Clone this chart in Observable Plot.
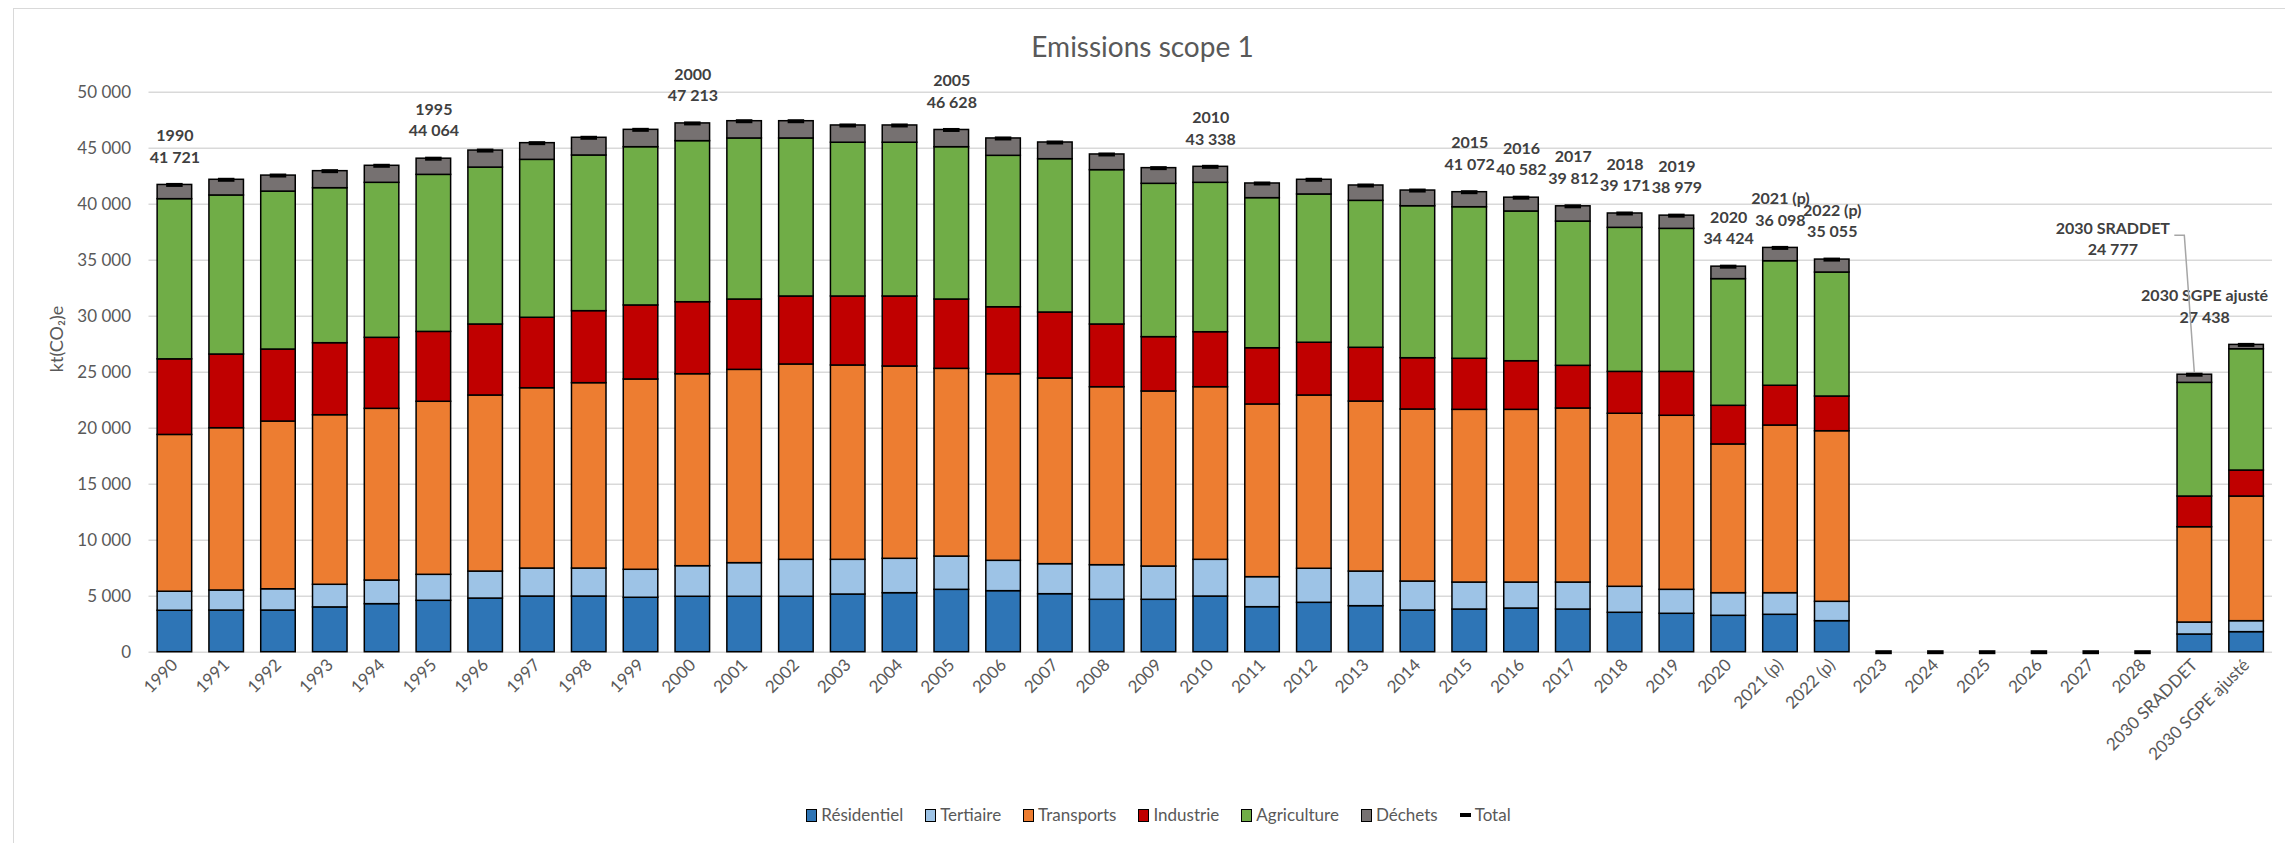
<!DOCTYPE html>
<html><head><meta charset="utf-8">
<script src="https://cdn.jsdelivr.net/npm/d3@7"></script>
<script src="https://cdn.jsdelivr.net/npm/@observablehq/plot@0.6"></script>
<style>
body{margin:0;background:#fff;font-family:Lato,"Open Sans",sans-serif;}
#wrap{position:relative;width:2285px;height:843px;overflow:hidden;background:#fff;}
#frame{position:absolute;left:13px;top:8px;width:2320px;height:900px;border-left:1.5px solid #d9d9d9;border-top:1.5px solid #d9d9d9;}
#title{position:absolute;left:0;top:28px;width:2285px;text-align:center;font-size:28px;color:#595959;line-height:36px;}
#chart{position:absolute;left:0;top:60px;}
#legend{position:absolute;top:803px;left:0;width:2317px;display:flex;justify-content:center;gap:22px;font-size:17px;color:#595959;line-height:24px;}
#legend .it{display:flex;align-items:center;gap:4px;}
#legend .sw{display:inline-block;width:9px;height:11px;border:1.5px solid #000;}
#legend .tot{display:inline-block;width:11px;height:4px;background:#000;}
</style></head>
<body>
<div id="wrap">
  <div id="frame"></div>
  <div id="title">Emissions scope 1</div>
  <div id="chart"></div>
  <div id="legend"></div>
</div>
<script>
const categories = ["1990","1991","1992","1993","1994","1995","1996","1997","1998","1999",
  "2000","2001","2002","2003","2004","2005","2006","2007","2008","2009",
  "2010","2011","2012","2013","2014","2015","2016","2017","2018","2019",
  "2020","2021 (p)","2022 (p)","2023","2024","2025","2026","2027","2028",
  "2030 SRADDET","2030 SGPE ajusté"];
const N = null;
const residentiel = [3700,3720,3720,4000,4290,4590,4790,4970,4970,4860,
  4950,4950,4950,5150,5270,5570,5450,5180,4680,4680,
  4970,4020,4410,4110,3720,3810,3900,3810,3520,3430,
  3250,3340,2770,N,N,N,N,N,N,1580,1790];
const tertiaire = [1700,1790,1900,2020,2110,2320,2410,2500,2500,2500,
  2730,3000,3300,3100,3070,2970,2710,2680,3090,2970,
  3280,2680,3040,3090,2590,2410,2320,2410,2320,2140,
  2020,1930,1730,N,N,N,N,N,N,1070,980];
const transports = [14000,14490,14975,15140,15330,15450,15720,16100,16550,16990,
  17140,17260,17440,17350,17170,16760,16660,16580,15890,15630,
  15410,15420,15470,15180,15360,15420,15420,15540,15450,15540,
  13280,14970,15230,N,N,N,N,N,N,8510,11130];
const industrie = [6750,6580,6430,6430,6340,6240,6340,6290,6430,6610,
  6430,6280,6070,6160,6250,6190,5980,5890,5600,4850,
  4910,5020,4710,4800,4580,4560,4340,3810,3740,3920,
  3450,3550,3100,N,N,N,N,N,N,2740,2320];
const agriculture = [14300,14200,14100,13840,13840,14020,14010,14100,13900,14130,
  14380,14380,14110,13730,13730,13600,13520,13690,13780,13690,
  13340,13400,13240,13120,13570,13530,13370,12880,12860,12770,
  11310,11120,11070,N,N,N,N,N,N,10150,10830];
const dechets = [1270,1400,1430,1520,1520,1444,1520,1490,1580,1550,
  1583,1540,1540,1540,1540,1538,1550,1490,1400,1400,
  1428,1310,1310,1370,1400,1342,1232,1362,1281,1179,
  1114,1188,1155,N,N,N,N,N,N,727,388];
const totals = [41721,42180,42560,42950,43430,44064,44790,45450,45930,46640,
  47213,47410,47410,47030,47030,46628,45870,45510,44440,43220,
  43338,41850,42180,41670,41220,41072,40582,39812,39171,38979,
  34424,36098,35055,0,0,0,0,0,0,24777,27438];
const labelled = ["1990","1995","2000","2005","2010","2015","2016","2017","2018","2019",
  "2020","2021 (p)","2022 (p)","2030 SRADDET","2030 SGPE ajusté"];
const sectors = ["Résidentiel","Tertiaire","Transports","Industrie","Agriculture","Déchets"];
const colors = ["#2E75B6","#9DC3E6","#ED7D31","#C00000","#70AD47","#767171"];
const yTicks = [0,5000,10000,15000,20000,25000,30000,35000,40000,45000,50000];

const series = [residentiel, tertiaire, transports, industrie, agriculture, dechets];
const rows = [];
sectors.forEach((s, i) => categories.forEach((c, j) => {
  if (series[i][j] != null) rows.push({cat: c, sector: s, value: series[i][j]});
}));
const totalRows = categories.map((c, j) => ({cat: c, total: totals[j]}));
const annot = labelled.map(c => ({cat: c, total: totals[categories.indexOf(c)]}));
const fmt = d3.formatLocale({decimal: ",", thousands: " ", grouping: [3], currency: ["", ""]}).format(",d");
const txt = d => `${d.cat}\n${fmt(d.total)}`;
const annotStyle = {x: "cat", y: "total", text: txt, lineAnchor: "middle", lineHeight: 1.35,
  fontWeight: "bold", fontSize: 16, fill: "#404040"};

const plot = Plot.plot({
  width: 2285, height: 730,
  marginTop: 31.7, marginBottom: 138.3, marginLeft: 148.5, marginRight: 13,
  style: {fontFamily: "Lato, 'Open Sans', sans-serif", fontSize: "17px", color: "#595959", background: "transparent"},
  x: {domain: categories, paddingInner: 1/3, paddingOuter: 1/6},
  y: {domain: [0, 50000]},
  color: {domain: sectors, range: colors},
  marks: [
    Plot.gridY(yTicks, {stroke: "#d9d9d9", strokeOpacity: 1, strokeWidth: 1.5}),
    Plot.axisY(yTicks, {tickFormat: fmt, tickSize: 0, tickPadding: 18, fontSize: 17, label: null}),
    Plot.axisX({tickRotate: -45, tickSize: 0, tickPadding: 10, fontSize: 17, label: null}),
    Plot.text(["kt(CO₂)e"], {frameAnchor: "left", dx: -92, rotate: -90, text: d => d, fontSize: 18, fill: "#595959"}),
    Plot.barY(rows, {x: "cat", y: "value", fill: "sector", stroke: "black", strokeWidth: 1.5}),
    Plot.tickY(totalRows, {x: "cat", y: "total", stroke: "black", strokeWidth: 4, insetLeft: 9, insetRight: 9}),
    Plot.text(annot.filter(d => !d.cat.startsWith("2030")), {...annotStyle, dy: -40}),
    Plot.text(annot.filter(d => d.cat === "2030 SRADDET"), {...annotStyle, dx: -82, dy: -137}),
    Plot.text(annot.filter(d => d.cat === "2030 SGPE ajusté"), {...annotStyle, dx: -42, dy: -40})
  ]
});
document.getElementById("chart").appendChild(plot);

// leader line for the 2030 SRADDET label, placed with the plot's own scales
const xs = plot.scale("x"), ys = plot.scale("y");
const sc = "2030 SRADDET";
const cx = xs.apply(sc) + xs.bandwidth / 2;
const yt = ys.apply(totals[categories.indexOf(sc)]);
const yl = yt - 139;
d3.select(plot).append("path")
  .attr("d", `M${cx - 20},${yl}L${cx - 10},${yl}L${cx},${yt - 2}`)
  .attr("fill", "none").attr("stroke", "#a6a6a6").attr("stroke-width", 1.5);

// legend
const lg = d3.select("#legend");
sectors.forEach((s, i) => {
  const it = lg.append("div").attr("class", "it");
  it.append("span").attr("class", "sw").style("background", colors[i]);
  it.append("span").text(s);
});
const t = lg.append("div").attr("class", "it");
t.append("span").attr("class", "tot");
t.append("span").text("Total");
</script>
</body></html>
